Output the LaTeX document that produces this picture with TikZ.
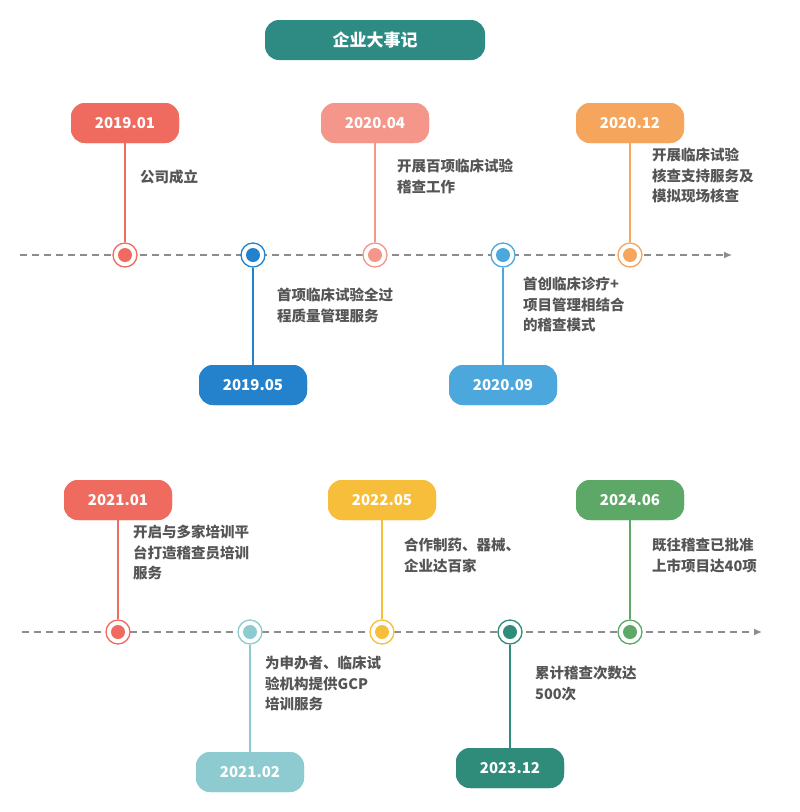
\documentclass[tikz,border=0pt]{standalone}
\usepackage{fontspec}
\setmainfont{Noto Sans CJK SC}
\usetikzlibrary{arrows.meta}
\definecolor{cTitle}{HTML}{2E8B84}
\definecolor{cRedA}{HTML}{F06B5F}
\definecolor{cBlueA}{HTML}{2482CC}
\definecolor{cPink}{HTML}{F4978A}
\definecolor{cBlueB}{HTML}{4CA8DC}
\definecolor{cOrange}{HTML}{F6A55C}
\definecolor{cCyan}{HTML}{8ECBD0}
\definecolor{cYellow}{HTML}{F7BE3B}
\definecolor{cTeal}{HTML}{2F8C7A}
\definecolor{cGreen}{HTML}{5EA867}
\definecolor{txt}{HTML}{555555}
\tikzset{
  datebox/.style={fill=#1, rounded corners=14pt, minimum width=108pt, minimum height=40pt,
    text=white, font=\fontsize{15}{17}\selectfont\bfseries},
  dot/.style={circle, draw=#1, line width=1.3pt, fill=white, minimum size=24pt, inner sep=0pt,
    path picture={\fill[#1] (path picture bounding box.center) circle (7pt);}},
  stem/.style={draw=#1, line width=1.2pt},
  note/.style={anchor=north west, align=left, text=txt, inner sep=0pt,
    font=\fontsize{14.5}{20.5}\selectfont\bfseries},
  axis/.style={draw=gray!90, line width=1.3pt, dash pattern=on 7pt off 5pt, -{Latex[length=8pt,width=7pt]}}
}
\begin{document}
\begin{tikzpicture}[x=1pt,y=-1pt]
\useasboundingbox (0,0) rectangle (800,812);
% title
\node (title) [datebox=cTitle, minimum width=220pt, font=\fontsize{17}{19}\selectfont\bfseries] at (375,40) {企业大事记};
% first line
\coordinate (axAs) at (20,255);
\coordinate (axAe) at (732,255);
\draw [axis] (axAs) -- (axAe);
\foreach \nm/\x/\yb/\col in {d1901/125/123/cRedA, d1905/253/385/cBlueA, d2004/375/123/cPink,
    d2009/503/385/cBlueB, d2012/630/123/cOrange}{
  \node (\nm) [datebox=\col] at (\x,\yb) {};
  \node (\nm m) [dot=\col] at (\x,255) {};
  \draw [stem=\col] (\nm) -- (\nm m);
}
\node [datebox=cRedA] at (d1901) {2019.01};
\node [datebox=cBlueA] at (d1905) {2019.05};
\node [datebox=cPink] at (d2004) {2020.04};
\node [datebox=cBlueB] at (d2009) {2020.09};
\node [datebox=cOrange] at (d2012) {2020.12};
\node (t1901) [note] at (140,170) {公司成立};
\node (t1905) [note] at (277,288) {首项临床试验全过\\程质量管理服务};
\node (t2004) [note] at (397,159) {开展百项临床试验\\稽查工作};
\node (t2009) [note] at (523,277) {首创临床诊疗+\\项目管理相结合\\的稽查模式};
\node (t2012) [note] at (652,148) {开展临床试验\\核查支持服务及\\模拟现场核查};
% second line
\coordinate (axBs) at (22,632);
\coordinate (axBe) at (762,632);
\draw [axis] (axBs) -- (axBe);
\foreach \nm/\x/\yb/\col in {d2101/118/500/cRedA, d2102/250/772/cCyan, d2205/382/500/cYellow,
    d2312/510/768/cTeal, d2406/630/500/cGreen}{
  \node (\nm) [datebox=\col] at (\x,\yb) {};
  \node (\nm m) [dot=\col] at (\x,632) {};
  \draw [stem=\col] (\nm) -- (\nm m);
}
\node [datebox=cRedA] at (d2101) {2021.01};
\node [datebox=cCyan] at (d2102) {2021.02};
\node [datebox=cYellow] at (d2205) {2022.05};
\node [datebox=cTeal] at (d2312) {2023.12};
\node [datebox=cGreen] at (d2406) {2024.06};
\node (t2101) [note] at (133,525) {开启与多家培训平\\台打造稽查员培训\\服务};
\node (t2102) [note] at (265,656) {为申办者、临床试\\验机构提供GCP\\培训服务};
\node (t2205) [note] at (404,538) {合作制药、器械、\\企业达百家};
\node (t2312) [note] at (535,666) {累计稽查次数达\\500次};
\node (t2406) [note] at (652,538) {既往稽查已批准\\上市项目达40项};
\end{tikzpicture}
\end{document}
